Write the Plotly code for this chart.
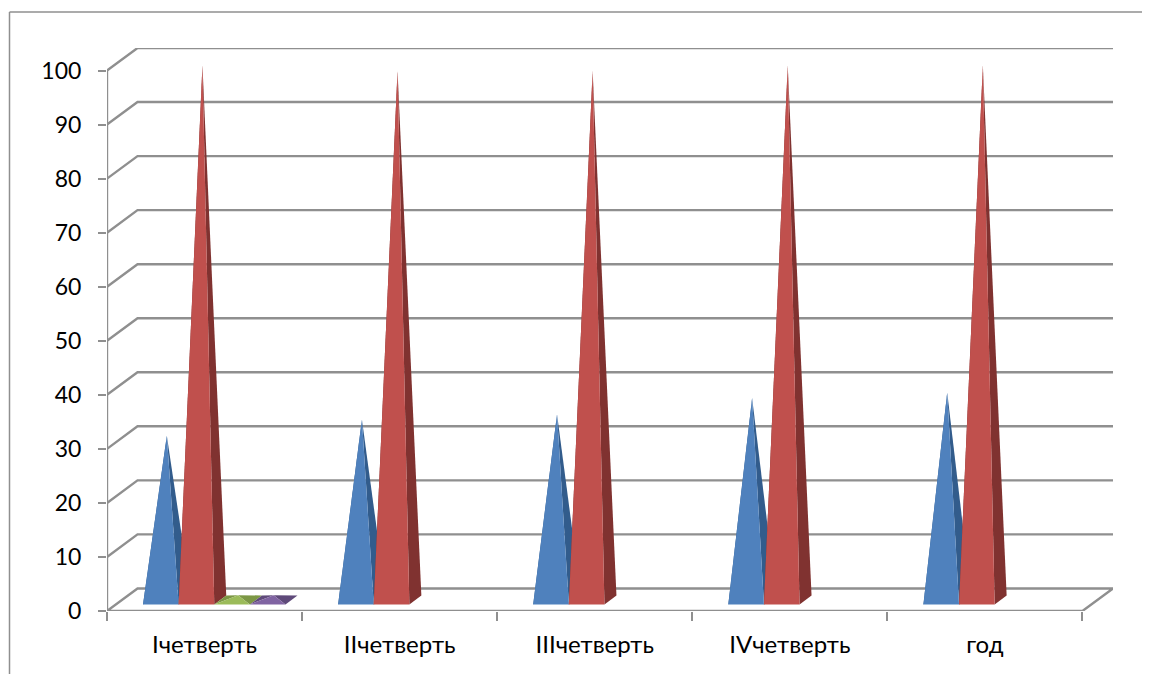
import plotly.graph_objects as go

categories = ["Iчетверть", "IIчетверть", "IIIчетверть", "IVчетверть", "год"]
series_a = [31.5, 34.5, 35.5, 38.5, 39.5]
series_b = [100, 99, 99, 100, 100]
series_c = [2, 0, 0, 0, 0]
series_d = [2, 0, 0, 0, 0]
y_ticks = list(range(0, 101, 10))

CAT_PX = 195.0
UNIT_PX = 5.39
W_DX = 30.5 / CAT_PX      # depth of the wall
W_DY = 22.5 / UNIT_PX
GRID = "#8f8f8f"
n = len(categories)
left = -0.5
right = n - 0.5

fig = go.Figure()

# walls / floor
for v in y_ticks:
    xs = [left, left + W_DX, right + W_DX]
    ys = [v, v + W_DY, v + W_DY]
    if v == 0:
        xs += [right, left]
        ys += [0, 0]
    fig.add_trace(go.Scatter(x=xs, y=ys, mode="lines", hoverinfo="skip", showlegend=False,
                             line=dict(color=GRID, width=2.4)))
fig.add_trace(go.Scatter(x=[left, left], y=[0, 100], mode="lines", hoverinfo="skip", showlegend=False,
                         line=dict(color=GRID, width=2.4)))

# pyramids
P_W = 35.6 / CAT_PX
P_OFF = 36.0 / CAT_PX
P_Y = 6.5 / UNIT_PX
P_DX = 12.0 / CAT_PX
P_DY = 9.0 / UNIT_PX
APEX_DX = 6.0 / CAT_PX
APEX_Y0 = 5.0 / UNIT_PX


def face(xs, ys, color, name):
    fig.add_trace(go.Scatter(x=xs + xs[:1], y=ys + ys[:1], mode="lines", fill="toself",
                             fillcolor=color, line=dict(width=0), showlegend=False,
                             name=name, hoverinfo="skip"))


def pyramid(values, s, front, side, name):
    for i, v in enumerate(values):
        if v <= 0:
            continue
        x0 = i - 0.5 + P_OFF + s * P_W
        x1 = x0 + P_W
        ax = (x0 + x1) / 2 + APEX_DX
        ay = v + APEX_Y0
        back = P_Y + P_DY
        face([x0, x0 + P_DX, ax], [P_Y, back, ay], side, name)
        face([x1, x1 + P_DX, ax], [P_Y, back, ay], side, name)
        face([x0, x1, ax], [P_Y, P_Y, ay], front, name)


pyramid(series_a, 0, "#4f81bd", "#325c8c", "Ряд 1")
pyramid(series_b, 1, "#c0504d", "#803230", "Ряд 2")
pyramid(series_c, 2, "#9bbb59", "#7c9745", "Ряд 3")
pyramid(series_d, 3, "#8064a2", "#5f4a7a", "Ряд 4")

PW, PH = 1006.0, 563.0
PAGE = 8  # the page body offsets the figure by this many pixels
fig.update_layout(
    width=1150 - PAGE, height=674 - PAGE,
    margin=dict(l=107 - PAGE, r=37, t=48 - PAGE, b=63, autoexpand=False),
    paper_bgcolor="white", plot_bgcolor="white",
    showlegend=False,
    font=dict(family="Lato, 'Open Sans', 'Noto Sans', sans-serif", color="black"),
    xaxis=dict(range=[left, right + W_DX], showgrid=False, zeroline=False, showline=False,
               tickmode="array", tickvals=list(range(n)), ticktext=categories,
               ticks="outside", ticklen=12, tickcolor="rgba(0,0,0,0)",
               tickfont=dict(size=24),
               minor=dict(tickmode="array", tickvals=[i - 0.5 for i in range(n + 1)],
                          ticks="outside", ticklen=9, tickwidth=2, tickcolor=GRID, showgrid=False)),
    yaxis=dict(range=[0, 100 + W_DY], showgrid=False, zeroline=False, showline=False,
               tickmode="array", tickvals=y_ticks,
               ticks="outside", ticklen=8, tickwidth=2, tickcolor=GRID,
               ticklabelstandoff=12, tickfont=dict(size=23)),
    shapes=[
        dict(type="line", xref="paper", yref="paper", x0=(9.5 - 107) / PW, x1=(1150 - 107) / PW,
             y0=(611 - 12) / PH, y1=(611 - 12) / PH, line=dict(color=GRID, width=1.5)),
        dict(type="line", xref="paper", yref="paper", x0=(9.5 - 107) / PW, x1=(9.5 - 107) / PW,
             y0=(611 - 12) / PH, y1=(611 - 674) / PH, line=dict(color=GRID, width=1.5)),
    ],
)

fig.write_html("out.html")
